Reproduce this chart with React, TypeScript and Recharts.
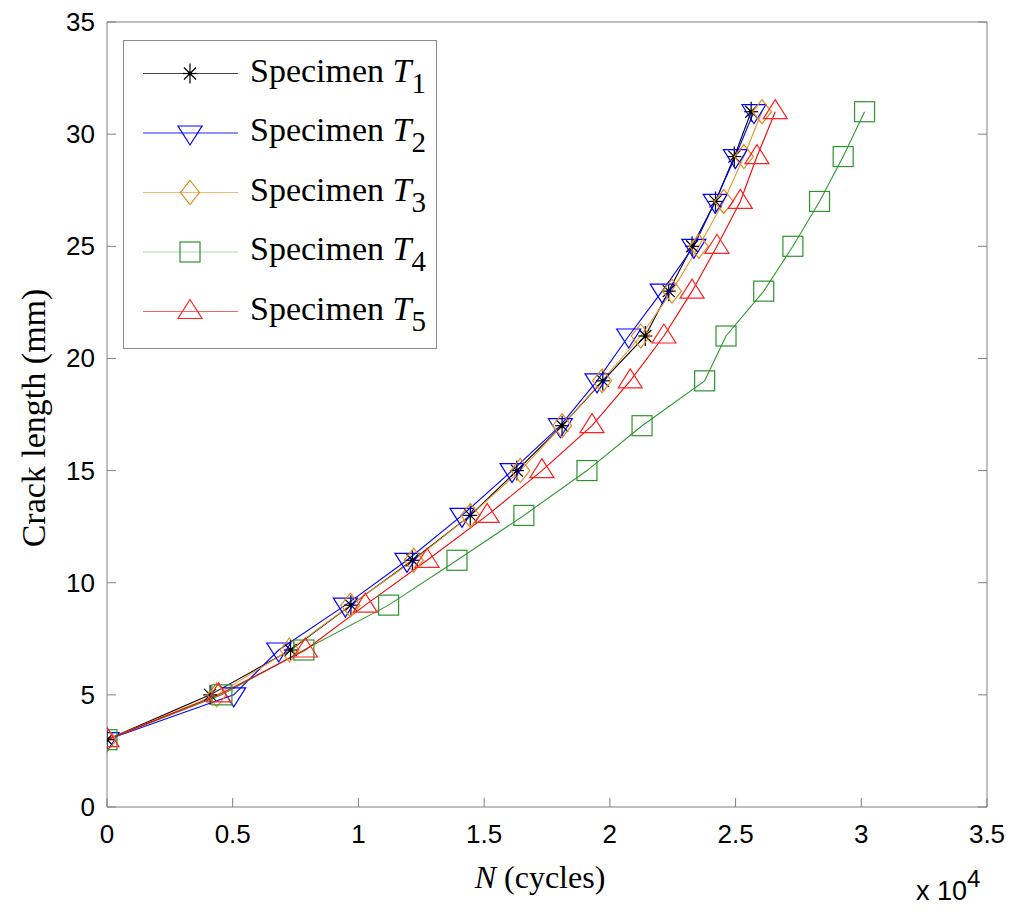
import React from 'react';
import { LineChart, Line, XAxis, YAxis, Legend } from 'recharts';

// crack length (mm) measured at every inspection, same for every specimen
const crackLength = [3, 5, 7, 9, 11, 13, 15, 17, 19, 21, 23, 25, 27, 29, 31];

// cycles (x 10^4) at each crack length
const cyclesT1 = [0, 0.41, 0.73, 0.97, 1.215, 1.445, 1.63, 1.81, 1.972, 2.141, 2.234, 2.327, 2.42, 2.495, 2.562];
const cyclesT2 = [0, 0.504, 0.683, 0.948, 1.193, 1.412, 1.611, 1.803, 1.949, 2.075, 2.208, 2.334, 2.419, 2.499, 2.573];
const cyclesT3 = [0, 0.437, 0.726, 0.968, 1.22, 1.445, 1.644, 1.81, 1.969, 2.123, 2.247, 2.354, 2.453, 2.533, 2.605];
const cyclesT4 = [0, 0.457, 0.783, 1.12, 1.392, 1.658, 1.909, 2.128, 2.377, 2.462, 2.612, 2.728, 2.834, 2.928, 3.013];
const cyclesT5 = [0, 0.444, 0.789, 1.027, 1.273, 1.512, 1.73, 1.929, 2.081, 2.215, 2.327, 2.426, 2.519, 2.585, 2.658];

const xTicks = [0, 0.5, 1, 1.5, 2, 2.5, 3, 3.5];
const yTicks = [0, 5, 10, 15, 20, 25, 30, 35];

const AXIS = '#808080';
const SANS = '"Liberation Sans", Arial, Helvetica, sans-serif';
const SERIF = '"Liberation Serif", "Times New Roman", serif';

type MarkerKind = 'star' | 'down' | 'diamond' | 'square' | 'up';

type SeriesDef = {
  sub: string;
  line: string;
  legendLine: string;
  mark: string;
  kind: MarkerKind;
  cycles: number[];
};

const series: SeriesDef[] = [
  { sub: '1', line: '#000000', legendLine: '#444444', mark: '#000000', kind: 'star', cycles: cyclesT1 },
  { sub: '2', line: '#0000ff', legendLine: '#2020ff', mark: '#0000ff', kind: 'down', cycles: cyclesT2 },
  { sub: '3', line: '#e8962a', legendLine: '#f5b870', mark: '#e08a1c', kind: 'diamond', cycles: cyclesT3 },
  { sub: '4', line: '#2f9a2f', legendLine: '#a6d8a6', mark: '#2e922e', kind: 'square', cycles: cyclesT4 },
  { sub: '5', line: '#ff0000', legendLine: '#ff6060', mark: '#ff2020', kind: 'up', cycles: cyclesT5 },
];

const toPoints = (cycles: number[]) => cycles.map((x, i) => ({ x, y: crackLength[i] }));

const Marker = ({ kind, cx, cy, color }: { kind: MarkerKind; cx: number; cy: number; color: string }) => {
  const common = { fill: 'none', stroke: color, strokeWidth: 1.2 };
  switch (kind) {
    case 'star':
      return (
        <g stroke={color} strokeWidth={1.2}>
          <line x1={cx} y1={cy - 10} x2={cx} y2={cy + 10} />
          <line x1={cx - 7} y1={cy} x2={cx + 7} y2={cy} />
          <line x1={cx - 6} y1={cy - 6} x2={cx + 6} y2={cy + 6} />
          <line x1={cx - 6} y1={cy + 6} x2={cx + 6} y2={cy - 6} />
          <circle cx={cx} cy={cy} r={1.5} fill={color} />
        </g>
      );
    case 'down':
      return <polygon {...common} points={`${cx - 12},${cy - 7} ${cx + 12},${cy - 7} ${cx},${cy + 12}`} />;
    case 'up':
      return <polygon {...common} points={`${cx - 12},${cy + 7} ${cx + 12},${cy + 7} ${cx},${cy - 12}`} />;
    case 'diamond':
      return <polygon {...common} points={`${cx},${cy - 12} ${cx + 9.5},${cy} ${cx},${cy + 12} ${cx - 9.5},${cy}`} />;
    default:
      return <rect {...common} x={cx - 10} y={cy - 10} width={20} height={20} />;
  }
};

const BottomTick = (props: any) => {
  const { x, y, payload } = props;
  return (
    <g>
      <line x1={x} y1={y} x2={x} y2={y - 9} stroke={AXIS} />
      <text x={x} y={y + 36} textAnchor="middle" fontFamily={SANS} fontSize={26} fill="#000">
        {String(payload.value)}
      </text>
    </g>
  );
};

const TopTick = (props: any) => {
  const { x, y } = props;
  return <line x1={x} y1={y} x2={x} y2={y + 9} stroke={AXIS} />;
};

const LeftTick = (props: any) => {
  const { x, y, payload } = props;
  return (
    <g>
      <line x1={x} y1={y} x2={x + 9} y2={y} stroke={AXIS} />
      <text x={x - 12} y={y + 9} textAnchor="end" fontFamily={SANS} fontSize={26} fill="#000">
        {String(payload.value)}
      </text>
    </g>
  );
};

const RightTick = (props: any) => {
  const { x, y } = props;
  return <line x1={x} y1={y} x2={x - 9} y2={y} stroke={AXIS} />;
};

const LegendBox = () => (
  <svg width={314} height={309} style={{ display: 'block' }}>
    <rect x={0.5} y={0.5} width={313} height={308} fill="#fff" stroke="#8c8c8c" />
    {series.map((s, i) => {
      const cy = 33.5 + i * 59.5;
      return (
        <g key={s.sub}>
          <line x1={20} x2={115} y1={cy} y2={cy} stroke={s.legendLine} strokeWidth={1.2} />
          <Marker kind={s.kind} cx={67} cy={cy} color={s.mark} />
          <text x={127} y={cy + 8} fontFamily={SERIF} fontSize={34} fill="#000">
            Specimen{' '}
            <tspan fontStyle="italic">T</tspan>
            <tspan fontSize={29} dy={11}>{s.sub}</tspan>
          </text>
        </g>
      );
    })}
  </svg>
);

const App = () => {
  return (
    <div style={{ position: 'absolute', left: 0, top: 0, background: '#fff' }}>
      <LineChart width={1024} height={919} margin={{ top: 20, right: 25, bottom: 52, left: 37 }}>
        <XAxis
          dataKey="x"
          type="number"
          domain={[0, 3.5]}
          ticks={xTicks}
          interval={0}
          allowDataOverflow
          height={60}
          tickSize={0}
          tickMargin={0}
          tickLine={false}
          axisLine={{ stroke: AXIS }}
          tick={<BottomTick />}
          label={{
            content: () => (
              <g>
                <text x={540} y={888} textAnchor="middle" fontFamily={SERIF} fontSize={32} fill="#000">
                  <tspan fontStyle="italic">N</tspan> (cycles)
                </text>
                <text x={916} y={900} fontFamily={SANS} fontSize={27} fill="#000">
                  x 10
                  <tspan fontSize={24} dy={-13}>4</tspan>
                </text>
              </g>
            ),
          }}
        />
        <XAxis
          xAxisId="top"
          orientation="top"
          type="number"
          domain={[0, 3.5]}
          ticks={xTicks}
          interval={0}
          allowDataOverflow
          height={2}
          tickSize={0}
          tickMargin={0}
          tickLine={false}
          axisLine={{ stroke: AXIS }}
          tick={<TopTick />}
        />
        <YAxis
          type="number"
          domain={[0, 35]}
          ticks={yTicks}
          interval={0}
          allowDataOverflow
          width={70}
          tickSize={0}
          tickMargin={0}
          tickLine={false}
          axisLine={{ stroke: AXIS }}
          tick={<LeftTick />}
          label={{
            content: () => (
              <text
                x={45}
                y={418}
                transform="rotate(-90 45 418)"
                textAnchor="middle"
                fontFamily={SERIF}
                fontSize={34}
                fill="#000"
              >
                Crack length (mm)
              </text>
            ),
          }}
        />
        <YAxis
          yAxisId="right"
          orientation="right"
          type="number"
          domain={[0, 35]}
          ticks={yTicks}
          interval={0}
          allowDataOverflow
          width={12}
          tickSize={0}
          tickMargin={0}
          tickLine={false}
          axisLine={{ stroke: AXIS }}
          tick={<RightTick />}
        />
        <Legend
          layout="vertical"
          align="center"
          verticalAlign="middle"
          content={() => <LegendBox />}
          wrapperStyle={{ left: 123, top: 40, width: 314, height: 309, margin: 0, padding: 0 }}
        />
        {series.map((s) => (
          <Line
            key={s.sub}
            data={toPoints(s.cycles)}
            dataKey="y"
            type="linear"
            stroke={s.line}
            strokeWidth={1.1}
            activeDot={false}
            legendType="none"
            isAnimationActive={false}
            dot={(p: any) => <Marker key={`${s.sub}-${p.index}`} kind={s.kind} cx={p.cx} cy={p.cy} color={s.mark} />}
          />
        ))}
      </LineChart>
    </div>
  );
};

export default App;
